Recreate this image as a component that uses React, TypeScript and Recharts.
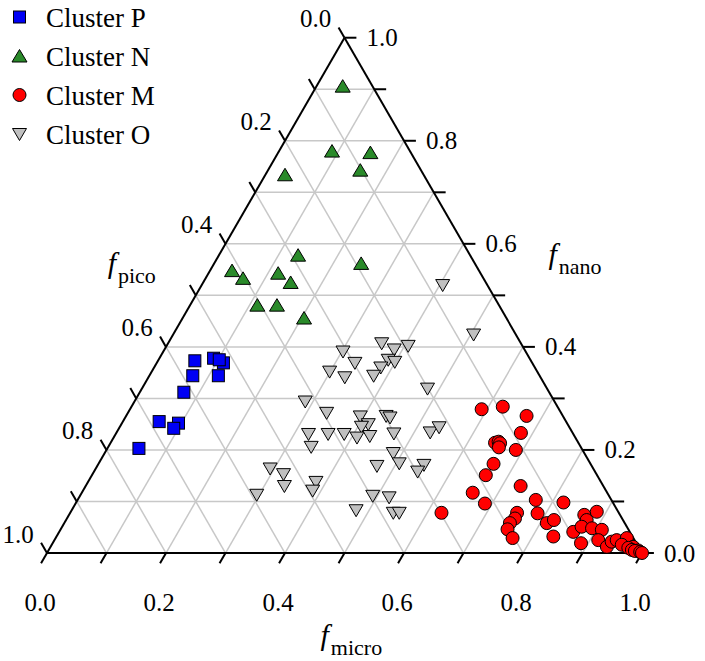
import React from "react";
import { ScatterChart, Scatter, XAxis, YAxis, ReferenceLine, Legend } from "recharts";

const W = 705;
const H = 661;
const S3 = Math.sqrt(3) / 2;
const FONT = "Liberation Serif, Times New Roman, DejaVu Serif, serif";

// compositions as [f_micro, f_nano]; f_pico = 1 - micro - nano
const clusterP = [
  [0.062, 0.373], [0.091, 0.378], [0.112, 0.369], [0.102, 0.375], [0.073, 0.344],
  [0.116, 0.344], [0.074, 0.312], [0.061, 0.255], [0.095, 0.252], [0.092, 0.242],
  [0.053, 0.203],
];

const clusterN = [
  [0.044, 0.906], [0.089, 0.780], [0.155, 0.777], [0.155, 0.743], [0.033, 0.734],
  [0.133, 0.578], [0.247, 0.562], [0.037, 0.548], [0.063, 0.533], [0.117, 0.543],
  [0.147, 0.525], [0.113, 0.481], [0.146, 0.481], [0.204, 0.456],
];

const clusterM = [
  [0.591, 0.279], [0.624, 0.284], [0.673, 0.266], [0.680, 0.233], [0.646, 0.214],
  [0.651, 0.216], [0.655, 0.213], [0.657, 0.205], [0.688, 0.200], [0.664, 0.173],
  [0.662, 0.151], [0.657, 0.117], [0.688, 0.096], [0.624, 0.078], [0.731, 0.130],
  [0.770, 0.103], [0.819, 0.098], [0.751, 0.078], [0.753, 0.067], [0.749, 0.058],
  [0.751, 0.046], [0.768, 0.029], [0.786, 0.077], [0.811, 0.058], [0.820, 0.064],
  [0.835, 0.032], [0.864, 0.041], [0.888, 0.019], [0.866, 0.074], [0.875, 0.064],
  [0.884, 0.080], [0.873, 0.051], [0.892, 0.048], [0.910, 0.045], [0.914, 0.025],
  [0.935, 0.012], [0.938, 0.022], [0.945, 0.025], [0.960, 0.029], [0.958, 0.016],
  [0.979, 0.012], [0.991, 0.005], [0.972, 0.010], [0.980, 0.006], [0.986, 0.004],
  [0.996, 0.002], [1.0, 0.0],
];

const clusterO = [
  [0.302, 0.391], [0.333, 0.369], [0.299, 0.352], [0.330, 0.341], [0.359, 0.407],
  [0.386, 0.395], [0.406, 0.402], [0.386, 0.375], [0.399, 0.371], [0.381, 0.360],
  [0.377, 0.344], [0.480, 0.319], [0.287, 0.294], [0.334, 0.272], [0.394, 0.265],
  [0.437, 0.266], [0.445, 0.263], [0.415, 0.250], [0.406, 0.245], [0.324, 0.231],
  [0.357, 0.231], [0.384, 0.231], [0.409, 0.224], [0.429, 0.227], [0.467, 0.232],
  [0.527, 0.234], [0.537, 0.244], [0.341, 0.206], [0.485, 0.194], [0.505, 0.174],
  [0.470, 0.169], [0.548, 0.171], [0.544, 0.158], [0.293, 0.164], [0.321, 0.153],
  [0.334, 0.130], [0.383, 0.138], [0.386, 0.121], [0.296, 0.113], [0.492, 0.111],
  [0.521, 0.108], [0.478, 0.083], [0.543, 0.078], [0.553, 0.078], [0.405, 0.520],
  [0.505, 0.424],
];

const gridSteps = [0.1, 0.2, 0.3, 0.4, 0.5, 0.6, 0.7, 0.8, 0.9];
const tickSteps = [0, 0.1, 0.2, 0.3, 0.4, 0.5, 0.6, 0.7, 0.8, 0.9, 1.0];
const labelSteps = [0, 0.2, 0.4, 0.6, 0.8, 1.0];
const tickLabels = ["0.0", "0.2", "0.4", "0.6", "0.8", "1.0"];

// ternary -> cartesian (data units)
const pt = (m: number, n: number) => ({ x: m + n / 2, y: n * S3 });
const toPoints = (arr: number[][]) => arr.map(([m, n]) => pt(m, n));

// plot area: left vertex at (47,553), side 595px
const X0 = -47 / 595;
const X1 = (W - 47) / 595;
const Y0 = -(H - 553) / 595;
const Y1 = 553 / 595;

type Seg = [{ x: number; y: number }, { x: number; y: number }];

const gridLines: Seg[] = [];
gridSteps.forEach((v) => {
  gridLines.push([pt(0, v), pt(1 - v, v)]);
  gridLines.push([pt(v, 0), pt(v, 1 - v)]);
  gridLines.push([pt(1 - v, 0), pt(0, 1 - v)]);
});

const edges: Seg[] = [
  [pt(0, 0), pt(1, 0)],
  [pt(1, 0), pt(0, 1)],
  [pt(0, 1), pt(0, 0)],
];

const TL = 0.02;
const ticks: Seg[] = [];
tickSteps.forEach((v) => {
  const b = pt(v, 0);
  ticks.push([b, { x: b.x - TL / 2, y: b.y - TL * S3 }]);
  const r = pt(1 - v, v);
  ticks.push([r, { x: r.x + TL, y: r.y }]);
  const l = pt(0, 1 - v);
  ticks.push([l, { x: l.x - TL / 2, y: l.y + TL * S3 }]);
});

const labelPoints = labelSteps.flatMap((v, i) => [
  { ...pt(v, 0), text: tickLabels[i], side: "bottom" },
  { ...pt(1 - v, v), text: tickLabels[i], side: "right" },
  { ...pt(0, 1 - v), text: tickLabels[i], side: "left" },
]);

const titlePoints = [
  { ...pt(0.5, 0), sub: "micro", side: "bottom" },
  { ...pt(0, 0.55), sub: "pico", side: "left" },
  { ...pt(0.45, 0.55), sub: "nano", side: "right" },
];

const Square = (p: any) => (
  <rect x={p.cx - 6} y={p.cy - 6} width={12} height={12} fill="#0000f5" stroke="#000" strokeWidth={1} />
);
const UpTri = (p: any) => (
  <polygon
    points={`${p.cx},${p.cy - 6.5} ${p.cx + 7.5},${p.cy + 6} ${p.cx - 7.5},${p.cy + 6}`}
    fill="#2a8a2a" stroke="#000" strokeWidth={1}
  />
);
const Dot = (p: any) => <circle cx={p.cx} cy={p.cy} r={6.5} fill="#ff0000" stroke="#000" strokeWidth={1} />;
const DownTri = (p: any) => (
  <polygon
    points={`${p.cx - 7},${p.cy - 5.5} ${p.cx + 7},${p.cy - 5.5} ${p.cx},${p.cy + 6.5}`}
    fill="#c0c0c0" stroke="#000" strokeWidth={1}
  />
);

const textStyle = { fontFamily: FONT };

const TickText = (p: any) => {
  const { cx, cy, payload } = p;
  let x = cx;
  let y = cy;
  let anchor = "middle";
  if (payload.side === "bottom") {
    x = cx - 7;
    y = cy + 58;
  } else if (payload.side === "right") {
    x = cx + 22;
    y = cy + 8.5;
    anchor = "start";
  } else {
    x = cx - 29;
    y = cy - 10.5;
  }
  return (
    <text x={x} y={y} textAnchor={anchor} fontSize={25} style={textStyle} fill="#000">
      {payload.text}
    </text>
  );
};

const TitleText = (p: any) => {
  const { cx, cy, payload } = p;
  let x = 0;
  let y = 0;
  if (payload.side === "bottom") {
    x = cx - 24;
    y = cy + 92;
  } else if (payload.side === "left") {
    x = cx - 103;
    y = cy + 3;
  } else {
    x = cx + 70;
    y = cy - 6;
  }
  return (
    <text x={x} y={y} style={textStyle} fill="#000">
      <tspan fontStyle="italic" fontSize={30}>f</tspan>
      <tspan fontSize={22} dx={2} dy={10}>{payload.sub}</tspan>
    </text>
  );
};

const series = [
  { name: "Cluster P", shape: Square },
  { name: "Cluster N", shape: UpTri },
  { name: "Cluster M", shape: Dot },
  { name: "Cluster O", shape: DownTri },
];

function ClusterLegend() {
  return (
    <svg width={200} height={150} style={{ display: "block" }}>
      {series.map((s, i) => {
        const cy = 17 + i * 39;
        const Shape = s.shape;
        return (
          <g key={s.name}>
            <Shape cx={19.5} cy={cy} />
            <text x={46} y={cy + 9.5} fontSize={27} style={textStyle} fill="#000">
              {s.name}
            </text>
          </g>
        );
      })}
    </svg>
  );
}

export default function App() {
  return (
    <div style={{ position: "absolute", left: 0, top: 0, width: W, height: H, background: "#fff" }}>
      <ScatterChart width={W} height={H} margin={{ top: 0, right: 0, bottom: 0, left: 0 }}>
        <XAxis type="number" dataKey="x" domain={[X0, X1]} allowDataOverflow hide />
        <YAxis type="number" dataKey="y" domain={[Y0, Y1]} allowDataOverflow hide />
        {gridLines.map((s, i) => (
          <ReferenceLine key={`g${i}`} segment={s} stroke="#c8c8c8" strokeWidth={1.5} ifOverflow="visible" />
        ))}
        {edges.map((s, i) => (
          <ReferenceLine key={`e${i}`} segment={s} stroke="#000" strokeWidth={2} ifOverflow="visible" />
        ))}
        {ticks.map((s, i) => (
          <ReferenceLine key={`t${i}`} segment={s} stroke="#000" strokeWidth={2} ifOverflow="visible" />
        ))}
        <Scatter name="Cluster P" data={toPoints(clusterP)} shape={Square} isAnimationActive={false} />
        <Scatter name="Cluster N" data={toPoints(clusterN)} shape={UpTri} isAnimationActive={false} />
        <Scatter name="Cluster M" data={toPoints(clusterM)} shape={Dot} isAnimationActive={false} />
        <Scatter name="Cluster O" data={toPoints(clusterO)} shape={DownTri} isAnimationActive={false} />
        <Scatter data={labelPoints} shape={TickText} legendType="none" isAnimationActive={false} />
        <Scatter data={titlePoints} shape={TitleText} legendType="none" isAnimationActive={false} />
        <Legend
          content={() => <ClusterLegend />}
          layout="vertical"
          align="center"
          verticalAlign="middle"
          wrapperStyle={{ left: 0, top: 0, width: 200 }}
        />
      </ScatterChart>
    </div>
  );
}
